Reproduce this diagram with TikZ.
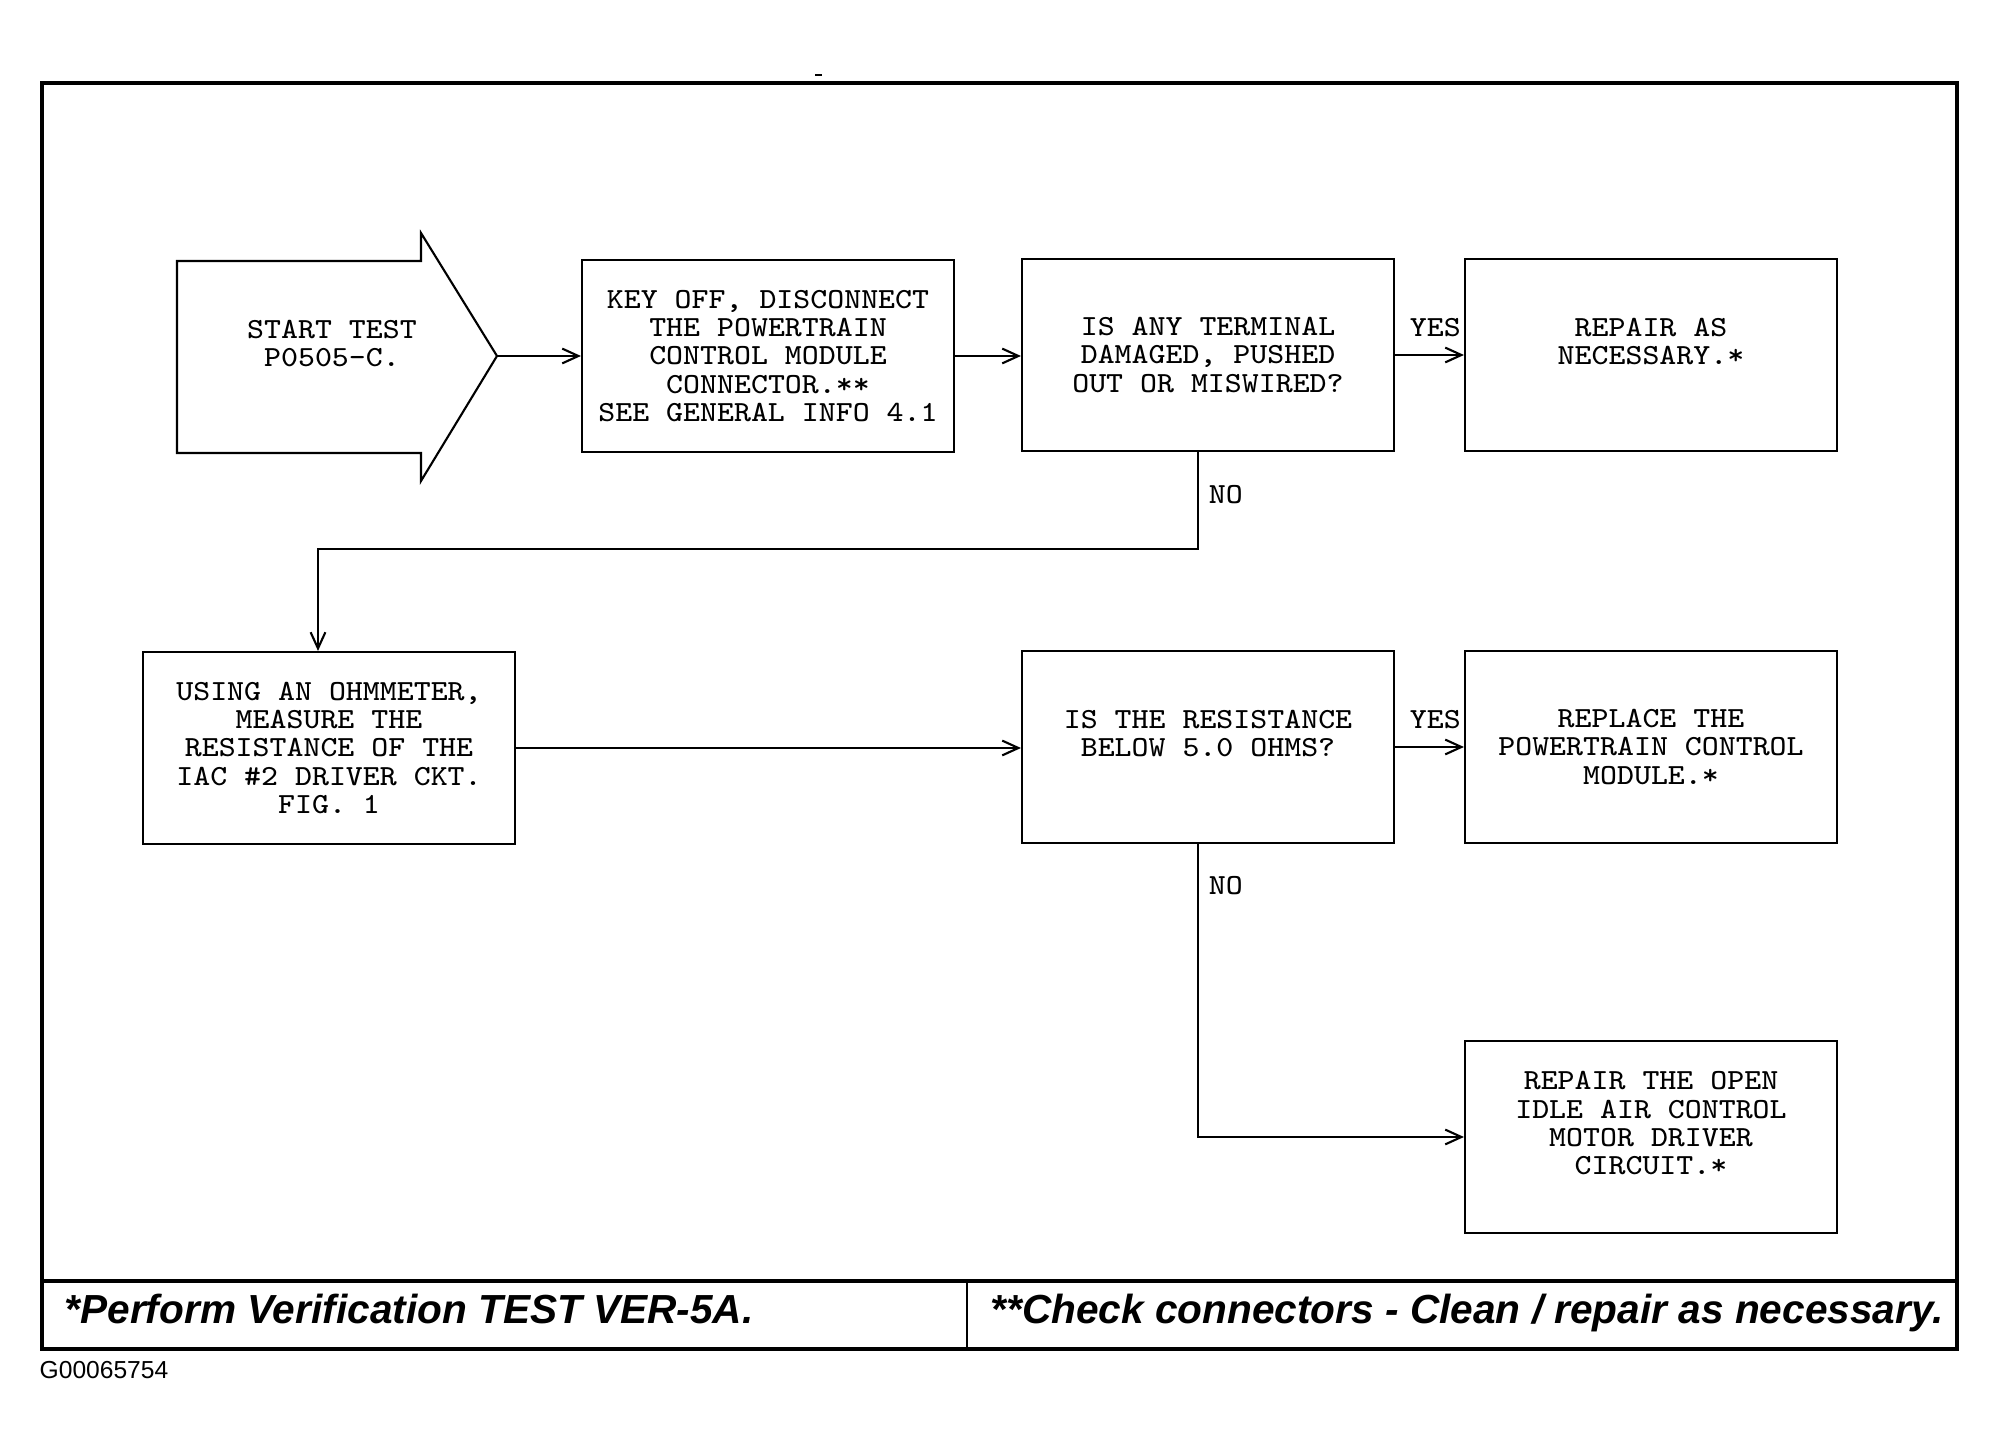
\documentclass[tikz,border=0pt]{standalone}
\usepackage{fontspec}
\usepackage{tikz}
\usetikzlibrary{positioning, calc, arrows.meta}
\newfontfamily\monofam{Latin Modern Mono}[FakeStretch=1.095]
\newfontfamily\sansfam{Liberation Sans}
\newcommand{\boxfont}{\monofam\fontsize{8.3}{8}\selectfont}

\tikzset{
	stepbox/.style={draw, line width=0.6pt, minimum width=3.72cm, minimum height=1.92cm, inner sep=0pt, align=center, font=\boxfont},
	flow/.style={line width=0.6pt, -{Straight Barb[length=4.6pt,width=4.2pt]}},
	yes/.style={font=\boxfont, pos=1, anchor=south east, inner xsep=0.6pt, inner ysep=5pt},
	no/.style={font=\boxfont, anchor=west, inner xsep=2.8pt, inner ysep=0pt},
	footnote/.style={font=\sansfam\bfseries\itshape\fontsize{11.55}{13}\selectfont, inner sep=0pt, anchor=base west}
}

\begin{document}
\begin{tikzpicture}[x=0.1mm, y=-0.1mm]
			\useasboundingbox (0,0) rectangle (2000,1454);
			
			\draw[line width=1.3pt] (42,83) rectangle (1957,1349);
			\draw[line width=1.2pt] (42,1281) -- (1957,1281);
			\draw[line width=0.8pt] (967,1281) -- (967,1349);
			\draw[line width=0.3pt] (815,75) -- (822,75);
			
			\draw[line width=0.6pt] (177,261) -- (421,261) -- (421,233) -- (497,356) -- (421,481) -- (421,453) -- (177,453) -- cycle;
			\coordinate (tip) at (497,356);
			\node[font=\boxfont, align=center, inner sep=0pt] (start) at (332,357) {START TEST\\P0505-C.\\~};
			
			\node[stepbox] (key) at (768,356) {KEY OFF, DISCONNECT~\\THE POWERTRAIN\\CONTROL MODULE\\CONNECTOR.**\\SEE GENERAL INFO 4.1};
			\node[stepbox] (term) at (1208,355) {IS ANY TERMINAL~\\DAMAGED, PUSHED~\\OUT OR MISWIRED?};
			\node[stepbox] (repair) at (1651,355) {REPAIR AS~\\NECESSARY.*~\\~};
			\node[stepbox] (ohm) at (329,748) {USING AN OHMMETER,\\MEASURE THE~\\RESISTANCE OF THE~\\IAC \#2 DRIVER CKT.\\FIG. 1};
			\node[stepbox] (res) at (1208,747) {IS THE RESISTANCE\\BELOW 5.0 OHMS?\\~};
			\node[stepbox] (pcm) at (1651,747) {REPLACE THE~\\POWERTRAIN CONTROL\\MODULE.*};
			\node[stepbox] (open) at (1651,1137) {REPAIR THE OPEN~\\IDLE AIR CONTROL\\MOTOR DRIVER\\CIRCUIT.*~\\~};
			
			\coordinate (k1) at (1198,549);
			\coordinate (k2) at (318,549);
			\coordinate (k3) at (1198,1137);
			
			\draw[flow] (tip) -- (key.west);
			\draw[flow] (key.east) -- (key.east -| term.west);
			\draw[flow] (term.east) -- node[yes] {YES} (term.east -| repair.west);
			\draw[flow] (term.south -| k1) -- node[no, pos=0.44] {NO} (k1) -- (k2) -- (k2 |- ohm.north);
			\draw[flow] (ohm.east) -- (ohm.east -| res.west);
			\draw[flow] (res.east) -- node[yes] {YES} (res.east -| pcm.west);
			\draw[flow] (res.south -| k3) -- node[no, pos=0.143] {NO} (k3) -- (open.west);
			
			\node[footnote] (verify) at (64,1324) {*Perform Verification TEST VER-5A.};
			\node[footnote] (clean) at (990,1324) {**Check connectors - Clean / repair as necessary.};
			\node[font=\sansfam\fontsize{7}{8}\selectfont, inner sep=0pt, anchor=base west] (figid) at (39,1379) {G00065754};
\end{tikzpicture}
\end{document}
